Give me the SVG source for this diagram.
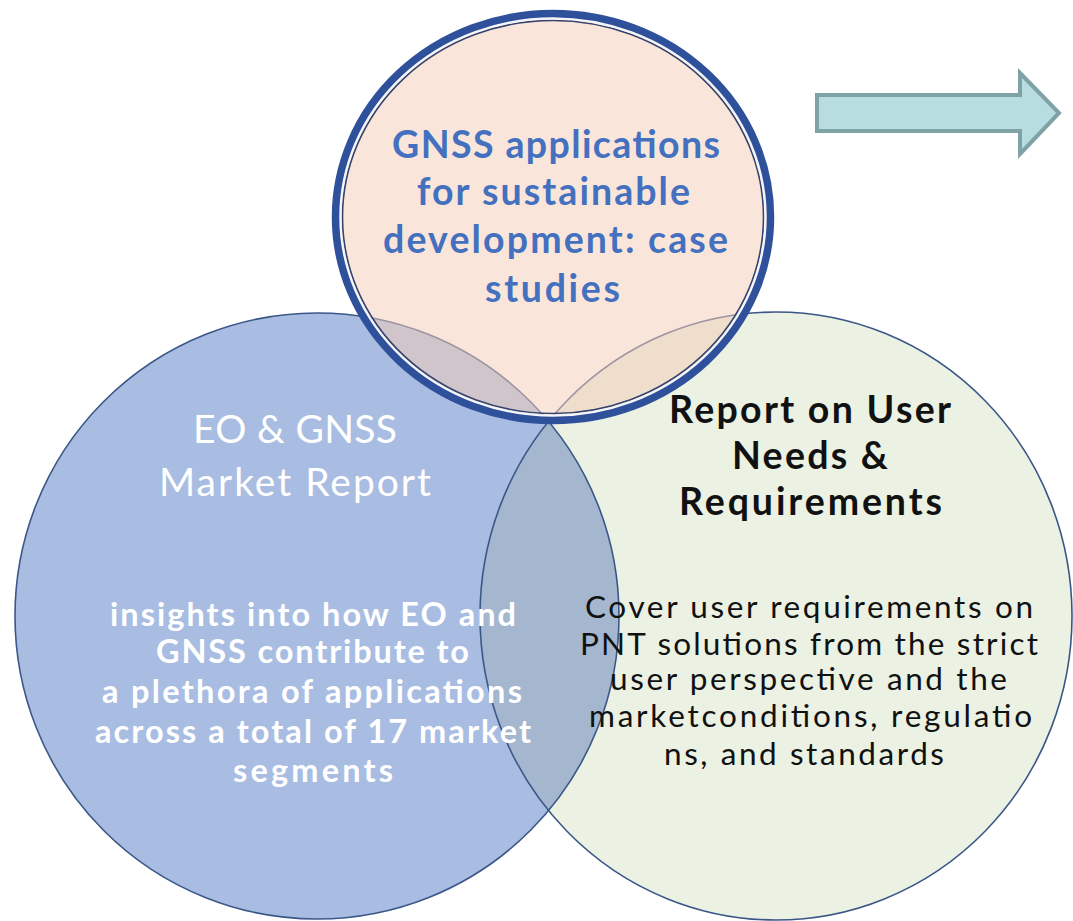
<svg xmlns="http://www.w3.org/2000/svg" width="1073" height="921" viewBox="0 0 1073 921">
  <style>
    .f { font-family: Lato, "Open Sans", "Liberation Sans", sans-serif; }
    .topt { font-size: 37.5px; font-weight: 700; fill: #4470c0; }
    .lh { font-size: 39px; font-weight: 400; fill: #ffffff; }
    .lb { font-size: 32.5px; font-weight: 700; fill: #ffffff; }
    .rh { font-size: 37.5px; font-weight: 700; fill: #111111; }
    .rb { font-size: 31.5px; font-weight: 400; fill: #111111; }
    .outline { fill: none; stroke: #3b5788; stroke-width: 1.6; }
  </style>
  <defs>
    <clipPath id="clipRight">
      <ellipse cx="776" cy="616" rx="296" ry="304"/>
    </clipPath>
  </defs>
  <rect width="1073" height="921" fill="#ffffff"/>

  <g id="node-left-fill">
    <ellipse cx="317" cy="616" rx="302" ry="303" fill="#a9bde2"/>
  </g>
  <g id="node-right-fill">
    <ellipse cx="776" cy="616" rx="296" ry="304" fill="#ebf1e3"/>
    <ellipse cx="317" cy="616" rx="302" ry="303" fill="#a4b7cf" clip-path="url(#clipRight)"/>
  </g>
  <g id="outlines">
    <ellipse class="outline" cx="317" cy="616" rx="302" ry="303"/>
    <ellipse class="outline" cx="776" cy="616" rx="296" ry="304"/>
  </g>

  <g id="node-top">
    <ellipse cx="553" cy="217" rx="217" ry="203" fill="#f6cdb9" fill-opacity="0.52"/>
    <ellipse cx="553" cy="217" rx="210.5" ry="196.5" fill="none" stroke="#34446f" stroke-width="1.6"/>
    <ellipse cx="553" cy="217" rx="212.8" ry="198.8" fill="none" stroke="#f4f6fb" stroke-width="2.4"/>
    <ellipse cx="553" cy="217" rx="217.5" ry="203.5" fill="none" stroke="#2f519b" stroke-width="7.5"/>
    <text class="f topt" x="392" y="158" textLength="328">GNSS applications</text>
    <text class="f topt" x="417" y="205" textLength="273">for sustainable</text>
    <text class="f topt" x="383" y="253" textLength="345">development: case</text>
    <text class="f topt" x="485" y="302" textLength="135">studies</text>
  </g>

  <g id="node-left">
    <text class="f lh" x="193" y="443" textLength="204">EO &amp; GNSS</text>
    <text class="f lh" x="159" y="496" textLength="272">Market Report</text>
    <text class="f lb" x="110" y="626" textLength="406">insights into how EO and</text>
    <text class="f lb" x="156" y="663" textLength="313">GNSS contribute to</text>
    <text class="f lb" x="102" y="703" textLength="420">a plethora of applications</text>
    <text class="f lb" x="95" y="743" textLength="436">across a total of 17 market</text>
    <text class="f lb" x="233" y="782" textLength="160">segments</text>
  </g>

  <g id="node-right">
    <text class="f rh" x="669" y="423" textLength="282">Report on User</text>
    <text class="f rh" x="732" y="469" textLength="156">Needs &amp;</text>
    <text class="f rh" x="679" y="515" textLength="263">Requirements</text>
    <text class="f rb" x="585" y="618" textLength="448">Cover user requirements on</text>
    <text class="f rb" x="580" y="655" textLength="458">PNT solutions from the strict</text>
    <text class="f rb" x="610" y="690" textLength="397">user perspective and the</text>
    <text class="f rb" x="589" y="727" textLength="443">marketconditions, regulatio</text>
    <text class="f rb" x="664" y="765" textLength="280">ns, and standards</text>
  </g>

  <g id="connectors">
    <polygon points="817,95 1020,95 1020,73 1059,113 1020,154 1020,131 817,131" fill="#b8dde1" stroke="#7fa2a5" stroke-width="4" stroke-linejoin="miter"/>
  </g>
</svg>
